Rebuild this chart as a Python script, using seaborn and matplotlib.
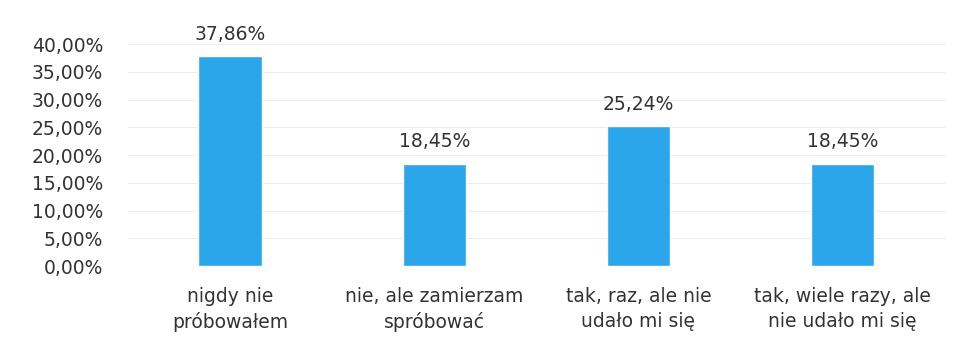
import matplotlib
matplotlib.use("Agg")
import matplotlib.pyplot as plt
import seaborn as sns
import pandas as pd
from matplotlib.ticker import FuncFormatter

categories = [
    "nigdy nie\npróbowałem",
    "nie, ale zamierzam\nspróbować",
    "tak, raz, ale nie\nudało mi się",
    "tak, wiele razy, ale\nnie udało mi się",
]
values = [37.86, 18.45, 25.24, 18.45]
yticks = [0, 5, 10, 15, 20, 25, 30, 35, 40]

df = pd.DataFrame({"kategoria": categories, "procent": values})

sns.set_theme(style="white")
plt.rcParams["font.family"] = ["DejaVu Sans"]

fig = plt.figure(figsize=(9.59, 3.40), dpi=100)
ax = fig.add_axes([0.1335, 0.2176, 0.8515, 0.6524])

sns.barplot(data=df, x="kategoria", y="procent", color="#2BA6EA",
            saturation=1, width=0.31, ax=ax)

ax.set_ylim(0, 40)
ax.set_xlim(-0.5, 3.5)
ax.set_yticks(yticks)
ax.yaxis.set_major_formatter(FuncFormatter(lambda v, _: f"{v:.2f}%".replace(".", ",")))
ax.grid(axis="y", color="#ededed", linewidth=0.8)
ax.set_axisbelow(True)
for s in ax.spines.values():
    s.set_visible(False)
ax.set_xlabel("")
ax.set_ylabel("")
fs = 13.5
ax.tick_params(axis="y", labelsize=fs, labelcolor="#333333", length=0, pad=18)
ax.tick_params(axis="x", labelsize=fs, labelcolor="#333333", length=0, pad=15)
for lbl in ax.get_xticklabels():
    lbl.set_linespacing(1.4)

for i, v in enumerate(values):
    ax.annotate(f"{v:.2f}%".replace(".", ","), (i, v), xytext=(0, 9),
                textcoords="offset points", ha="center", va="bottom",
                fontsize=fs, color="#333333")

fig.savefig("out.png", dpi=100)
